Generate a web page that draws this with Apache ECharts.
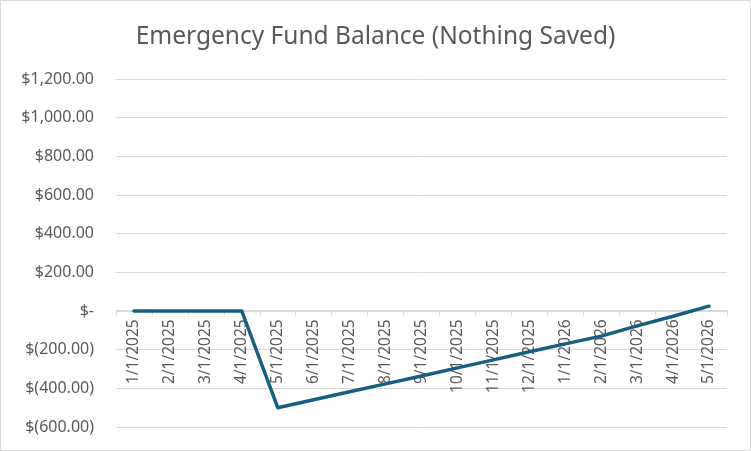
<!DOCTYPE html>
<html><head><meta charset="utf-8">
<script src="https://cdn.jsdelivr.net/npm/echarts@6/dist/echarts.min.js"></script>
<style>html,body{margin:0;padding:0;background:#fff}#c{width:751px;height:451px;box-sizing:border-box;border:1px solid #d9d9d9}</style>
</head><body><div id="c"></div>
<script>
const categories = ["1/1/2025","2/1/2025","3/1/2025","4/1/2025","5/1/2025","6/1/2025","7/1/2025","8/1/2025","9/1/2025","10/1/2025","11/1/2025","12/1/2025","1/1/2026","2/1/2026","3/1/2026","4/1/2026","5/1/2026"];
const balance = [0,0,0,0,-500,-459,-418,-377,-336,-294,-253,-211,-170,-130,-77,-27,25];
const titleText = "Emergency Fund Balance (Nothing Saved)";
const yMin = -600, yMax = 1200;

function fmt(v){
  if (v === 0) return "$-";
  const s = Math.abs(v).toLocaleString("en-US",{minimumFractionDigits:2,maximumFractionDigits:2});
  return v < 0 ? "$(" + s + ")" : "$" + s;
}
const gridTop = 78, gridBottom = 23, H = 451;
const plotH = H - gridTop - gridBottom;
const zeroOffset = -plotH * (0 - yMin) / (yMax - yMin);

const chart = echarts.init(document.getElementById('c'), null, {renderer:'canvas'});
chart.setOption({
  animation:false,
  title:{text:titleText,left:'center',top:19,textStyle:{fontFamily:'Noto Sans',fontSize:24.5,fontWeight:'normal',color:'#595959'}},
  grid:{left:115,right:23,top:gridTop,bottom:gridBottom,containLabel:false,outerBoundsMode:'none'},
  xAxis:{type:'category',data:categories,boundaryGap:true,position:'bottom',offset:zeroOffset,
    axisLine:{onZero:false,lineStyle:{color:'#d9d9d9',width:1}},
    axisTick:{show:true,alignWithLabel:false,length:5,lineStyle:{color:'#d9d9d9'}},
    axisLabel:{rotate:90,interval:0,margin:9,color:'#595959',fontFamily:'Noto Sans',fontSize:15.5}},
  yAxis:{type:'value',min:yMin,max:yMax,interval:200,
    axisLine:{show:false},axisTick:{show:false},
    splitLine:{lineStyle:{color:'#d9d9d9',width:1}},
    axisLabel:{formatter:fmt,color:'#595959',fontFamily:'Noto Sans',fontSize:16,margin:22}},
  series:[{type:'line',data:balance,symbol:'none',z:5,lineStyle:{color:'#156082',width:3.5,join:'round',cap:'round'}}]
});
</script></body></html>
